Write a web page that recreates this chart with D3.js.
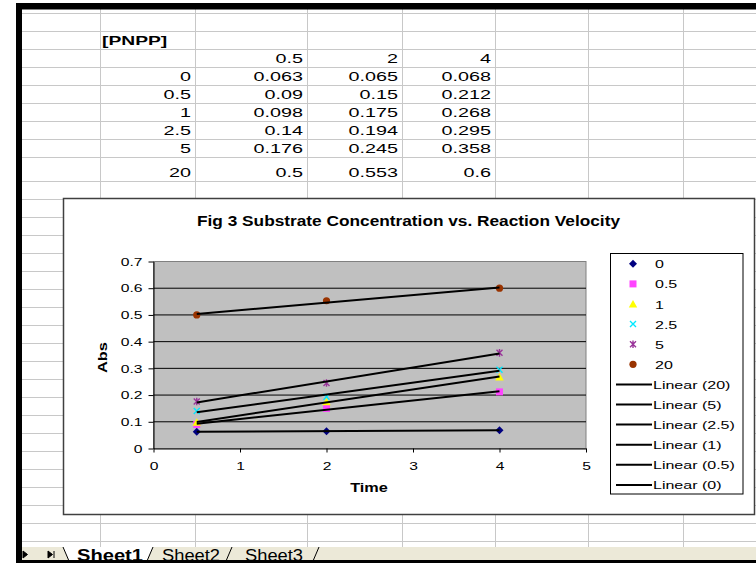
<!DOCTYPE html>
<html>
<head>
<meta charset="utf-8">
<script src="https://cdnjs.cloudflare.com/ajax/libs/d3/7.8.5/d3.min.js"></script>
<style>
  body { margin: 0; background: #fff; }
  svg { display: block; }
</style>
</head>
<body>
<div class="svg-container"></div>
<script>
let times = [0.5, 2, 4];
let concentrations = ['0', '0.5', '1', '2.5', '5', '20'];
let abs0 = [0.063, 0.065, 0.068];
let abs05 = [0.09, 0.15, 0.212];
let abs1 = [0.098, 0.175, 0.268];
let abs25 = [0.14, 0.194, 0.295];
let abs5 = [0.176, 0.245, 0.358];
let abs20 = [0.5, 0.553, 0.6];
let yTicks = [0, 0.1, 0.2, 0.3, 0.4, 0.5, 0.6, 0.7];
let xTicks = [0, 1, 2, 3, 4, 5];
let tableLabel = '[PNPP]';
let chartTitle = 'Fig 3 Substrate Concentration vs. Reaction Velocity';
let xTitle = 'Time';
let yTitle = 'Abs';
let sheetNames = ['Sheet1', 'Sheet2', 'Sheet3'];

let seriesValues = [abs0, abs05, abs1, abs25, abs5, abs20];

const FONT = '"Liberation Sans", Arial, sans-serif';
let width = 756;
let height = 563;

let svg = d3.select('.svg-container')
  .append('svg')
  .attr('width', width)
  .attr('height', height)
  .attr('font-family', FONT)

// Excel's screen fonts are wider than Arial, stretch the glyphs a bit
function widen (sel, k) {
  sel.each(function () {
    let w = this.getComputedTextLength()
    d3.select(this).attr('textLength', w * k).attr('lengthAdjust', 'spacingAndGlyphs')
  })
}

// ---- worksheet grid ----
let colEdges = [100, 195, 307, 402, 495, 588, 683];
let rowEdges = [13, 31, 49, 67, 85, 103, 121, 139, 157, 181].concat(d3.range(199, 545, 18));

let grid = svg.append('g').attr('stroke', '#c8c8c8').attr('stroke-width', 1)
grid.selectAll('line.row')
  .data(rowEdges)
  .enter()
  .append('line')
  .attr('x1', 22).attr('x2', width)
  .attr('y1', d => d + 0.5).attr('y2', d => d + 0.5)
grid.selectAll('line.col')
  .data(colEdges)
  .enter()
  .append('line')
  .attr('x1', d => d + 0.5).attr('x2', d => d + 0.5)
  .attr('y1', 9).attr('y2', 547)

// ---- table text ----
let cells = svg.append('g').attr('font-size', 13).attr('fill', '#000')
cells.append('text')
  .attr('x', 102).attr('y', 45)
  .attr('font-weight', 'bold')
  .text(tableLabel)
  .call(widen, 1.48)

// header row of times, columns C..E
cells.selectAll('text.time')
  .data(times)
  .enter()
  .append('text')
  .attr('text-anchor', 'end')
  .attr('x', (d, i) => colEdges[i + 2] - 4)
  .attr('y', rowEdges[3] - 4)
  .text(d => d)
  .call(widen, 1.52)

concentrations.forEach((c, r) => {
  let base = rowEdges[4 + r] - 4.5
  cells.append('text')
    .attr('text-anchor', 'end')
    .attr('x', colEdges[1] - 4)
    .attr('y', base)
    .text(c)
    .call(widen, 1.52)
  cells.selectAll(null)
    .data(seriesValues[r])
    .enter()
    .append('text')
    .attr('text-anchor', 'end')
    .attr('x', (d, i) => colEdges[i + 2] - 4)
    .attr('y', base)
    .text(d => d)
    .call(widen, 1.52)
})

// ---- chart ----
let chart = svg.append('g')
chart.append('rect')
  .attr('x', 63.5).attr('y', 198.5)
  .attr('width', 691).attr('height', 316)
  .attr('fill', '#fff')
  .attr('stroke', '#404040')
  .attr('stroke-width', 1.5)

chart.append('text')
  .attr('x', 408.5).attr('y', 225.5)
  .attr('text-anchor', 'middle')
  .attr('font-size', 14)
  .attr('font-weight', 'bold')
  .text(chartTitle)
  .each(function () {
    d3.select(this).attr('textLength', 423).attr('lengthAdjust', 'spacingAndGlyphs')
  })

let xScale = d3.scaleLinear().domain([0, 5]).range([153.5, 586])
let yScale = d3.scaleLinear().domain([0, 0.7]).range([448.5, 261.5])

chart.append('rect')
  .attr('x', xScale(0)).attr('y', yScale(0.7))
  .attr('width', xScale(5) - xScale(0))
  .attr('height', yScale(0) - yScale(0.7))
  .attr('fill', '#c0c0c0')
  .attr('stroke', '#808080')
  .attr('stroke-width', 1)

chart.selectAll('line.grid')
  .data(yTicks.filter(t => t > 0 && t < 0.7))
  .enter()
  .append('line')
  .attr('x1', xScale(0)).attr('x2', xScale(5))
  .attr('y1', d => yScale(d)).attr('y2', d => yScale(d))
  .attr('stroke', '#000')
  .attr('stroke-width', 1)

let yAxis = d3.axisLeft(yScale)
  .tickValues(yTicks)
  .tickFormat(d => d)
  .tickSize(5)
  .tickSizeOuter(0)
  .tickPadding(6)
let xAxis = d3.axisBottom(xScale)
  .tickValues(xTicks)
  .tickFormat(d => d)
  .tickSize(4)
  .tickSizeOuter(0)
  .tickPadding(9)

let gy = chart.append('g')
  .attr('transform', `translate(${xScale(0)}, 0)`)
  .call(yAxis)
let gx = chart.append('g')
  .attr('transform', `translate(0, ${yScale(0)})`)
  .call(xAxis)
;[gx, gy].forEach(g => {
  g.attr('font-family', FONT).attr('font-size', 11.6)
  g.selectAll('path, line').attr('stroke', '#000')
  g.selectAll('text').attr('fill', '#000').call(widen, 1.35)
})

chart.append('text')
  .attr('transform', 'translate(107, 357.5) rotate(-90)')
  .attr('text-anchor', 'middle')
  .attr('font-size', 13)
  .attr('font-weight', 'bold')
  .text(yTitle)
  .call(widen, 1.26)

chart.append('text')
  .attr('x', 369).attr('y', 491.5)
  .attr('text-anchor', 'middle')
  .attr('font-size', 13)
  .attr('font-weight', 'bold')
  .text(xTitle)
  .call(widen, 1.25)

// marker styles per series (Excel 2003 defaults)
let markerStyles = [
  { path: 'M0,-4L4,0L0,4L-4,0Z', fill: '#000080', stroke: 'none' },
  { path: 'M-3.5,-3.5h7v7h-7Z', fill: '#ff44ff', stroke: 'none' },
  { path: 'M0,-4L4.2,3.5L-4.2,3.5Z', fill: '#ffff00', stroke: 'none' },
  { path: 'M-3,-3L3,3M-3,3L3,-3', fill: 'none', stroke: '#00e8ff' },
  { path: 'M-3,-3L3,3M-3,3L3,-3M0,-3.8V3.8', fill: 'none', stroke: '#993399' },
  { path: 'M3.6,0A3.6,3.6 0 1,1 -3.6,0A3.6,3.6 0 1,1 3.6,0Z', fill: '#993300', stroke: 'none' }
];

function drawMarker (sel, i) {
  let s = markerStyles[i]
  sel.attr('d', s.path)
    .attr('fill', s.fill)
    .attr('stroke', s.stroke)
    .attr('stroke-width', 1.4)
}

seriesValues.forEach((vals, i) => {
  chart.selectAll(null)
    .data(vals)
    .enter()
    .append('path')
    .attr('transform', (d, j) => `translate(${xScale(times[j])}, ${yScale(d)})`)
    .call(drawMarker, i)
})

// linear trendlines (least squares) over the time span
function fitLine (xs, ys) {
  let mx = d3.mean(xs), my = d3.mean(ys)
  let sxy = d3.sum(xs, (v, k) => (v - mx) * (ys[k] - my))
  let sxx = d3.sum(xs, v => (v - mx) * (v - mx))
  let b = sxy / sxx
  return t => my + b * (t - mx)
}

seriesValues.forEach(vals => {
  let f = fitLine(times, vals)
  let x0 = d3.min(times), x1 = d3.max(times)
  chart.append('line')
    .attr('x1', xScale(x0)).attr('y1', yScale(f(x0)))
    .attr('x2', xScale(x1)).attr('y2', yScale(f(x1)))
    .attr('stroke', '#000')
    .attr('stroke-width', 2)
})

// ---- legend ----
let legend = chart.append('g')
legend.append('rect')
  .attr('x', 610.5).attr('y', 253.5)
  .attr('width', 132.5).attr('height', 240.5)
  .attr('fill', '#fff')
  .attr('stroke', '#000')
  .attr('stroke-width', 1)

let legendItems = concentrations.map((c, i) => ({ label: c, marker: i }))
  .concat(concentrations.slice().reverse().map(c => ({ label: `Linear (${c})`, marker: -1 })))

let legendRow = legend.selectAll('g.item')
  .data(legendItems)
  .enter()
  .append('g')
  .attr('transform', (d, i) => `translate(0, ${263.8 + i * 20.1})`)

legendRow.each(function (d) {
  let g = d3.select(this)
  if (d.marker >= 0) {
    g.append('path')
      .attr('transform', 'translate(633, 0)')
      .call(drawMarker, d.marker)
    g.append('text')
      .attr('x', 655).attr('y', 4.5)
      .attr('font-size', 11.6)
      .text(d.label)
      .call(widen, 1.38)
  } else {
    g.append('line')
      .attr('x1', 616).attr('x2', 652)
      .attr('y1', 0).attr('y2', 0)
      .attr('stroke', '#000')
      .attr('stroke-width', 2)
    g.append('text')
      .attr('x', 653).attr('y', 4.5)
      .attr('font-size', 11.6)
      .text(d.label)
      .call(widen, 1.38)
  }
})

// ---- sheet tabs ----
let tabs = svg.append('g')
tabs.append('rect')
  .attr('x', 22).attr('y', 547)
  .attr('width', width - 22).attr('height', 13)
  .attr('fill', '#ece9d8')
tabs.append('path')
  .attr('d', 'M63,547L69,561L147,561L153,547Z')
  .attr('fill', '#fff')
  .attr('stroke', 'none')
tabs.append('path')
  .attr('d', 'M63,547L69,561M147,561L153,547M226,561L232,547M313,561L319,547')
  .attr('stroke', '#000')
  .attr('stroke-width', 1)
  .attr('fill', 'none')
tabs.append('path')
  .attr('d', 'M23,551L27.5,554.5L23,558Z M48,551L52.5,554.5L48,558Z M54,551V558')
  .attr('fill', '#000')
  .attr('stroke', '#000')
  .attr('stroke-width', 1)

let tabX = [77, 162, 245];
let tabW = [66, 58, 58];
tabs.selectAll('text.tab')
  .data(sheetNames)
  .enter()
  .append('text')
  .attr('x', (d, i) => tabX[i])
  .attr('y', 561)
  .attr('font-size', 16)
  .attr('font-weight', (d, i) => i === 0 ? 'bold' : 'normal')
  .text(d => d)
  .attr('textLength', (d, i) => tabW[i])
  .attr('lengthAdjust', 'spacingAndGlyphs')

// ---- window frame ----
let frame = svg.append('g').attr('fill', '#000')
frame.append('rect').attr('x', 16).attr('y', 3).attr('width', width - 16).attr('height', 6.5)
frame.append('rect').attr('x', 16).attr('y', 3).attr('width', 6).attr('height', height - 3)
frame.append('rect').attr('x', 16).attr('y', 560).attr('width', width - 16).attr('height', 3)
</script>
</body>
</html>
